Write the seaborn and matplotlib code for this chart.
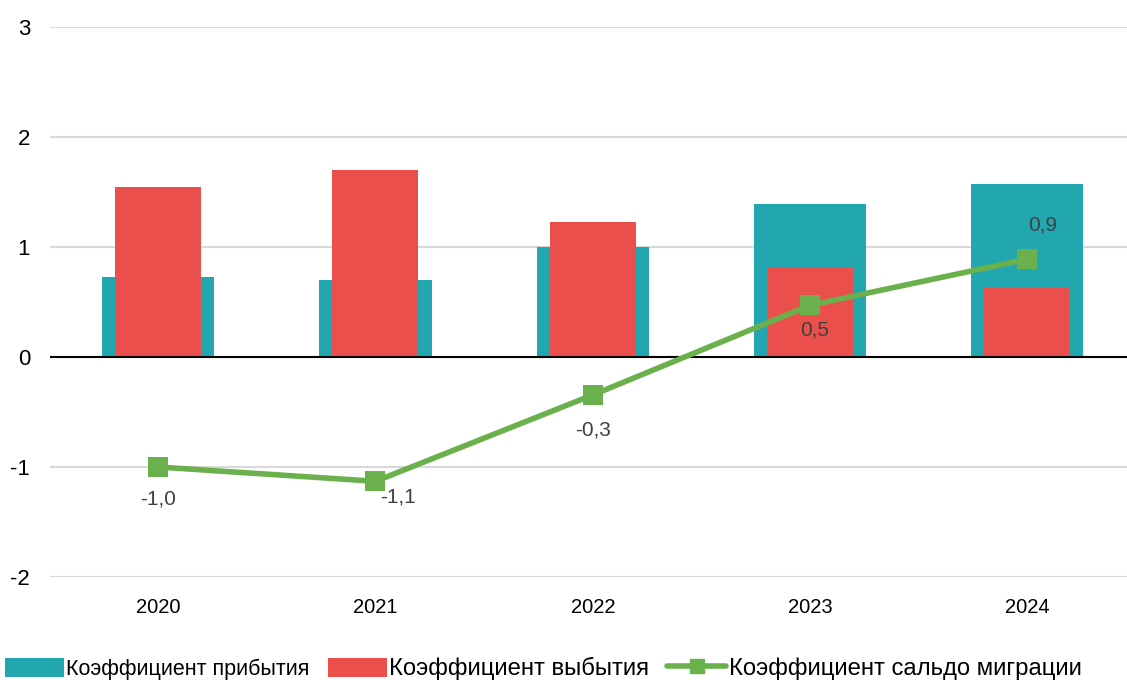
import numpy as np
import matplotlib
matplotlib.use("Agg")
import matplotlib.pyplot as plt
from matplotlib.patches import Patch
from matplotlib.lines import Line2D
import seaborn as sns

years = ["2020", "2021", "2022", "2023", "2024"]
arrival = [0.73, 0.70, 1.00, 1.39, 1.57]
departure = [1.55, 1.70, 1.23, 0.81, 0.63]
net_migration = [-1.00, -1.13, -0.345, 0.47, 0.89]
net_labels = ["-1,0", "-1,1", "-0,3", "0,5", "0,9"]

TEAL = "#22A6B0"
RED = "#EB4F4C"
GREEN = "#6AB04C"

sns.set_theme(style="white")
plt.rcParams["font.family"] = ["Liberation Sans", "DejaVu Sans"]

fig = plt.figure(figsize=(11.27, 6.8), dpi=100)
ax = fig.add_axes([49.5 / 1127, 103 / 680, 1086.5 / 1127, 550 / 680])

sns.barplot(x=years, y=arrival, color=TEAL, width=0.516, saturation=1,
            linewidth=0, ax=ax, zorder=2)
sns.barplot(x=years, y=departure, color=RED, width=0.396, saturation=1,
            linewidth=0, ax=ax, zorder=3)

xpos = np.arange(len(years))
sns.lineplot(x=xpos, y=net_migration, color=GREEN, linewidth=4, marker="s",
             markersize=14, markeredgewidth=0, ax=ax, zorder=5)

# value labels for the net migration line (offsets in points)
offsets = [(0, -23), (16.5, -11.5), (0, -25), (3.6, -18), (11, 24.5)]
for x, y, lab, (dx, dy) in zip(xpos, net_migration, net_labels, offsets):
    ax.annotate(lab, (x, y), xytext=(dx, dy), textcoords="offset points",
                ha="center", va="center", fontsize=15, color="#404040", zorder=6)

ax.set_xlim(-0.5, 4.5)
ax.set_ylim(-2, 3)
ax.set_yticks([-2, -1, 0, 1, 2, 3])
ax.set_yticklabels(["-2", "-1", "0", "1", "2", "3"])
ax.yaxis.grid(True, color="#D9D9D9", linewidth=1.5, zorder=0)
ax.set_axisbelow(True)
ax.axhline(0, color="black", linewidth=1.5, zorder=4)
for s in ax.spines.values():
    s.set_visible(False)
ax.tick_params(axis="both", length=0, colors="black")
ax.tick_params(axis="y", pad=14, labelsize=16)
ax.tick_params(axis="x", pad=15, labelsize=14.5)
ax.set_xlabel("")
ax.set_ylabel("")

handles = [
    Patch(facecolor=TEAL, edgecolor="none", label="Коэффициент прибытия"),
    Patch(facecolor=RED, edgecolor="none", label="Коэффициент выбытия"),
    Line2D([0], [0], color=GREEN, linewidth=4, marker="s", markersize=10,
           label="Коэффициент сальдо миграции"),
]
leg = fig.legend(handles=handles, loc="lower left", bbox_to_anchor=(0.004, 0.0), ncol=3,
                 frameon=False, fontsize=15.5, handlelength=2.75, handleheight=1.0,
                 handletextpad=0.1, columnspacing=0.85, borderaxespad=0, borderpad=0,
                 labelcolor="black")
for txt, size in zip(leg.get_texts(), [15.5, 17.2, 17.2]):
    txt.set_fontsize(size)

fig.savefig("out.png", dpi=100)
